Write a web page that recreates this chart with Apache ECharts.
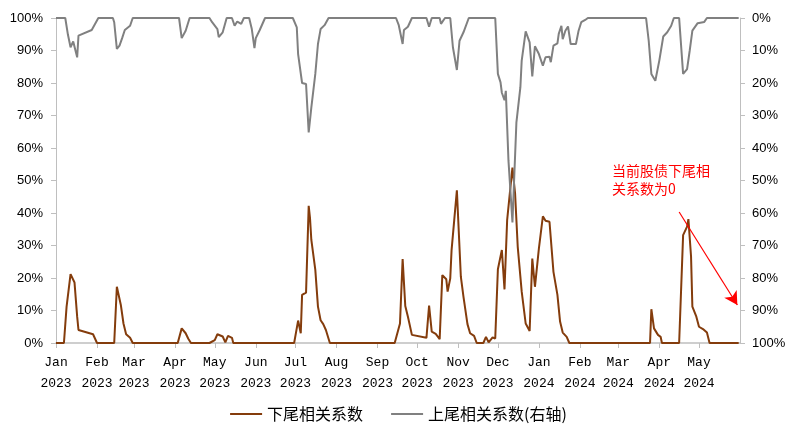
<!DOCTYPE html>
<html>
<head>
<meta charset="utf-8">
<script src="https://cdn.jsdelivr.net/npm/echarts@6/dist/echarts.min.js"></script>
<style>
html,body{margin:0;padding:0;background:#fff;}
#chart{width:797px;height:437px;}
</style>
</head>
<body>
<div id="chart"></div>
<script>
// ---- Data ----
const monthLabels = ['Jan\n2023','Feb\n2023','Mar\n2023','Apr\n2023','May\n2023','Jun\n2023','Jul\n2023','Aug\n2023','Sep\n2023','Oct\n2023','Nov\n2023','Dec\n2023','Jan\n2024','Feb\n2024','Mar\n2024','Apr\n2024','May\n2024'];
const leftTicks = [0,10,20,30,40,50,60,70,80,90,100];
const seriesNames = ['下尾相关系数','上尾相关系数(右轴)'];

const lowerDates = ['2023-01-01','2023-01-07','2023-01-09','2023-01-12','2023-01-15','2023-01-17','2023-01-18','2023-01-29','2023-02-01','2023-02-14','2023-02-16','2023-02-19','2023-02-21','2023-02-23','2023-02-26','2023-02-28','2023-04-03','2023-04-06','2023-04-09','2023-04-11','2023-04-13','2023-04-27','2023-05-01','2023-05-03','2023-05-07','2023-05-09','2023-05-11','2023-05-14','2023-05-15','2023-06-30','2023-07-03','2023-07-05','2023-07-06','2023-07-09','2023-07-11','2023-07-12','2023-07-13','2023-07-16','2023-07-18','2023-07-20','2023-07-22','2023-07-24','2023-07-27','2023-09-14','2023-09-18','2023-09-20','2023-09-22','2023-09-24','2023-09-27','2023-10-08','2023-10-10','2023-10-12','2023-10-15','2023-10-18','2023-10-20','2023-10-23','2023-10-24','2023-10-26','2023-10-27','2023-10-29','2023-10-31','2023-11-03','2023-11-05','2023-11-08','2023-11-10','2023-11-13','2023-11-15','2023-11-20','2023-11-22','2023-11-24','2023-11-27','2023-11-29','2023-12-01','2023-12-04','2023-12-06','2023-12-08','2023-12-10','2023-12-12','2023-12-14','2023-12-16','2023-12-19','2023-12-22','2023-12-25','2023-12-27','2023-12-29','2024-01-01','2024-01-04','2024-01-06','2024-01-09','2024-01-10','2024-01-12','2024-01-15','2024-01-17','2024-01-19','2024-01-22','2024-01-24','2024-03-25','2024-03-26','2024-03-28','2024-03-31','2024-04-02','2024-04-03','2024-04-16','2024-04-19','2024-04-22','2024-04-23','2024-04-25','2024-04-26','2024-04-29','2024-05-01','2024-05-04','2024-05-07','2024-05-09','2024-05-31'];
const lowerValues = [0,0,11.2,21.2,18.6,8.1,4.0,2.7,0,0,17.3,11.7,6.0,2.7,1.6,0,0,4.5,3.0,1.3,0,0,0.9,2.7,2.0,0.2,2.2,1.6,0,0,6.9,3.0,14.8,15.5,42.2,38.4,31.7,22.5,11.2,7.0,5.8,4.0,0,0,6.0,25.8,11.4,8.1,2.5,1.6,11.5,3.5,2.8,1.2,20.9,19.6,15.8,19.9,28.6,37.8,47.0,20.4,14.2,5.8,3.0,2.2,0,0,1.9,0.2,1.7,1.4,22.7,28.6,16.5,37.8,46.0,54.0,46.0,29.6,15.8,6.0,3.7,26.0,17.3,29.1,39.0,37.6,37.3,37.6,21.9,14.8,6.6,3.2,1.9,0,0,10.4,4.5,2.5,1.9,0,0,33.2,35.8,38.1,26.6,11.2,8.1,5.0,4.3,3.2,0,0];

const upperDates = ['2023-01-01','2023-01-08','2023-01-10','2023-01-12','2023-01-14','2023-01-17','2023-01-18','2023-01-28','2023-02-02','2023-02-13','2023-02-14','2023-02-16','2023-02-18','2023-02-20','2023-02-22','2023-02-26','2023-02-28','2023-04-04','2023-04-06','2023-04-09','2023-04-12','2023-04-27','2023-04-29','2023-05-03','2023-05-04','2023-05-07','2023-05-10','2023-05-14','2023-05-16','2023-05-18','2023-05-21','2023-05-23','2023-05-27','2023-05-29','2023-05-31','2023-06-01','2023-06-04','2023-06-08','2023-06-29','2023-07-02','2023-07-03','2023-07-06','2023-07-09','2023-07-11','2023-07-13','2023-07-16','2023-07-18','2023-07-20','2023-07-23','2023-07-26','2023-09-15','2023-09-17','2023-09-20','2023-09-21','2023-09-24','2023-09-27','2023-10-08','2023-10-10','2023-10-12','2023-10-18','2023-10-19','2023-10-22','2023-10-26','2023-10-28','2023-10-31','2023-11-02','2023-11-05','2023-11-09','2023-11-29','2023-12-01','2023-12-03','2023-12-04','2023-12-06','2023-12-07','2023-12-09','2023-12-12','2023-12-15','2023-12-18','2023-12-19','2023-12-22','2023-12-25','2023-12-27','2023-12-29','2024-01-01','2024-01-04','2024-01-06','2024-01-09','2024-01-10','2024-01-12','2024-01-15','2024-01-16','2024-01-18','2024-01-19','2024-01-21','2024-01-23','2024-01-25','2024-01-29','2024-01-31','2024-02-02','2024-02-05','2024-02-07','2024-03-22','2024-03-24','2024-03-26','2024-03-29','2024-04-01','2024-04-04','2024-04-07','2024-04-10','2024-04-12','2024-04-16','2024-04-19','2024-04-22','2024-04-24','2024-04-26','2024-04-30','2024-05-05','2024-05-07','2024-05-31'];
const upperValues = [0,0,5.1,9.0,7.2,12.1,5.4,3.7,0,0,1.3,9.5,8.5,6.2,3.7,2.4,0,0,6.2,3.9,0,0,1.3,3.4,5.9,4.4,0,0,2.4,1.1,1.8,0,0,3.4,9.3,6.2,3.7,0,0,2.9,11.1,20.0,20.3,35.2,27.5,17.2,8.0,3.4,2.2,0,0,2.1,8.0,3.7,2.7,0,0,2.7,0,0,1.8,0,0,9.0,16.0,7.0,4.4,0,0,17.2,19.8,23.0,25.3,22.4,43.9,62.9,32.1,21.3,13.1,4.1,7.5,18.0,8.7,11.1,14.7,12.1,11.9,13.6,8.5,7.8,4.9,2.4,6.5,3.9,2.6,8.0,8.0,3.9,1.3,0.6,0,0,7.0,17.2,19.3,13.1,5.7,4.4,2.4,0,0,17.2,15.7,10.0,3.9,1.6,1.2,0,0];

const annotationText = '当前股债下尾相\n关系数为0';
const arrowStart = ['2024-04-16', 40.3];
const arrowEnd = ['2024-05-30', 11.7];

// ---- Axis categories: every calendar day ----
const axisStart = Date.UTC(2023,0,1), axisEnd = Date.UTC(2024,5,1);
const days = [];
for (let t = axisStart; t <= axisEnd; t += 86400000) days.push(new Date(t).toISOString().slice(0,10));

function monthIndex(v){ const y=+v.slice(0,4), m=+v.slice(5,7); return (y-2023)*12+(m-1); }
function isMonthTick(i, v){ return v.slice(8,10)==='01' && monthIndex(v) < monthLabels.length; }

const lowerData = lowerDates.map((d,i)=>[d, lowerValues[i]]);
const upperData = upperDates.map((d,i)=>[d, upperValues[i]]);

const axisGray = '#BFBFBF';
const chart = echarts.init(document.getElementById('chart'), null, {renderer:'canvas'});
chart.setOption({
  animation:false,
  backgroundColor:'#fff',
  grid:{left:56,right:57,top:18,bottom:94,containLabel:false},
  xAxis:{
    type:'category', data:days, boundaryGap:false,
    axisLine:{show:true,lineStyle:{color:axisGray,width:1.5}},
    axisTick:{show:true,interval:isMonthTick,length:5,lineStyle:{color:axisGray}},
    axisLabel:{interval:isMonthTick, formatter:v=>monthLabels[monthIndex(v)], color:'#000',
      fontFamily:'Liberation Mono', fontSize:13, lineHeight:21, margin:9},
    splitLine:{show:false}
  },
  yAxis:[
    {type:'value', min:0, max:100, interval:10,
     axisLine:{show:true,lineStyle:{color:axisGray}},
     axisTick:{show:true,length:5,lineStyle:{color:axisGray}},
     axisLabel:{formatter:'{value}%', color:'#000', fontFamily:'Liberation Sans', fontSize:13, margin:13},
     splitLine:{show:false}},
    {type:'value', min:0, max:100, interval:10, inverse:true, position:'right',
     axisLine:{show:true,lineStyle:{color:axisGray}},
     axisTick:{show:true,length:5,lineStyle:{color:axisGray}},
     axisLabel:{formatter:'{value}%', color:'#000', fontFamily:'Liberation Sans', fontSize:13, margin:12},
     splitLine:{show:false}}
  ],
  legend:{
    data:seriesNames, top:401, left:'center', icon:'rect',
    itemWidth:32, itemHeight:2, itemGap:28,
    textStyle:{fontFamily:'Noto Sans CJK SC', fontSize:16, color:'#000'}
  },
  series:[
    {name:seriesNames[0], type:'line', data:lowerData, yAxisIndex:0, symbol:'none',
     lineStyle:{color:'#843C0C', width:2}, itemStyle:{color:'#843C0C'},
     markLine:{silent:true, symbol:['none','arrow'], symbolSize:[11,13],
       lineStyle:{color:'#FF0000', width:1.2, type:'solid'}, label:{show:false},
       data:[[{coord:arrowStart},{coord:arrowEnd}]]}},
    {name:seriesNames[1], type:'line', data:upperData, yAxisIndex:1, symbol:'none',
     lineStyle:{color:'#808080', width:2}, itemStyle:{color:'#808080'}}
  ],
  graphic:[{type:'text', left:612, top:162,
    style:{text:annotationText, fill:'#FF0000', fontFamily:'Noto Sans CJK SC', fontSize:14, lineHeight:18}}]
});
</script>
</body>
</html>
